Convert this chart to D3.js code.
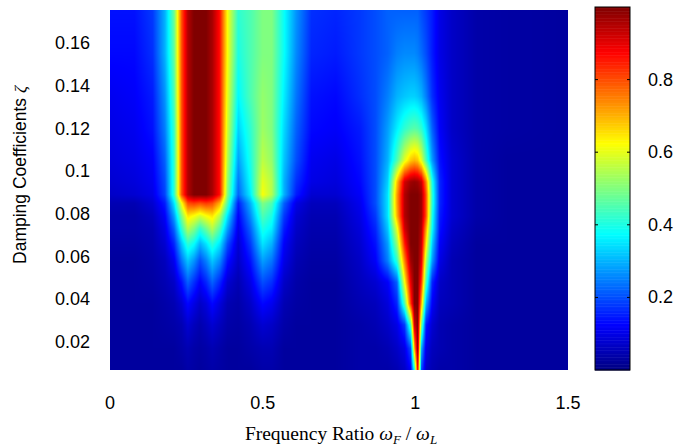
<!DOCTYPE html>
<html>
<head>
<meta charset="utf-8">
<script src="https://cdn.jsdelivr.net/npm/d3@7"></script>
<style>
  body { margin: 0; background: #fff; }
  svg { display: block; }
  .tick-label { font-family: "Liberation Sans", Arial, sans-serif; font-size: 18px; fill: #000; }
</style>
</head>
<body>
<svg width="681" height="448"></svg>
<script>
// frequency ratio columns (x) and damping rows (y)
const ratio = [0, 0.08, 0.14, 0.18, 0.21, 0.235, 0.255, 0.275, 0.295, 0.315, 0.335, 0.36, 0.385,
  0.42, 0.46, 0.5, 0.53, 0.57, 0.61, 0.66, 0.74, 0.82, 0.87, 0.91, 0.94, 0.965, 0.985, 0.997,
  1.008, 1.02, 1.035, 1.055, 1.08, 1.12, 1.2, 1.3, 1.5];
const zeta = [0.007, 0.017, 0.028, 0.038, 0.048, 0.058, 0.066, 0.073, 0.079, 0.085, 0.089,
  0.095, 0.105, 0.12, 0.135, 0.155, 0.175];
// one row per zeta value (bottom to top), one entry per ratio column
const response = [
  [0.03,0.03,0.03,0.03,0.03, 0.03,0.04,0.035,0.03,0.035,0.04,0.035,0.03, 0.03,0.03,0.04,0.04,0.03,0.03, 0.03,0.03,0.04,0.04, 0.04,0.05,0.07,0.12,0.4,0.9,0.2,0.07,0.05,0.04,0.04, 0.03,0.03,0.03],
  [0.03,0.03,0.03,0.03,0.03, 0.04,0.05,0.04,0.035,0.04,0.05,0.04,0.03, 0.03,0.04,0.05,0.05,0.03,0.03, 0.03,0.03,0.04,0.04, 0.05,0.07,0.1,0.2,0.7,1,0.3,0.1,0.06,0.05,0.04, 0.03,0.03,0.03],
  [0.03,0.03,0.03,0.035,0.04, 0.05,0.08,0.06,0.045,0.06,0.08,0.06,0.04, 0.035,0.05,0.08,0.07,0.04,0.03, 0.03,0.03,0.04,0.05, 0.07,0.1,0.18,0.45,0.92,1,0.5,0.15,0.08,0.05,0.04, 0.03,0.03,0.03],
  [0.03,0.03,0.03,0.04,0.05, 0.08,0.13,0.1,0.07,0.09,0.13,0.09,0.05, 0.04,0.07,0.13,0.11,0.05,0.035, 0.03,0.03,0.05,0.06, 0.09,0.16,0.45,0.82,1,1,0.7,0.3,0.12,0.06,0.05, 0.03,0.03,0.03],
  [0.03,0.03,0.035,0.05,0.07, 0.14,0.22,0.17,0.12,0.16,0.22,0.16,0.08, 0.05,0.1,0.2,0.17,0.07,0.04, 0.03,0.03,0.06,0.08, 0.12,0.22,0.62,0.9,1,1,0.82,0.45,0.16,0.07,0.05, 0.03,0.03,0.03],
  [0.03,0.03,0.04,0.06,0.11, 0.24,0.32,0.27,0.2,0.25,0.32,0.26,0.14, 0.07,0.14,0.28,0.24,0.1,0.05, 0.035,0.035,0.07,0.12, 0.25,0.42,0.75,0.97,1,1,0.9,0.55,0.28,0.1,0.05, 0.03,0.03,0.03],
  [0.035,0.035,0.045,0.08,0.16, 0.32,0.42,0.38,0.3,0.35,0.42,0.35,0.2, 0.08,0.18,0.35,0.3,0.12,0.06, 0.04,0.04,0.08,0.14, 0.28,0.52,0.85,1,1,1,0.93,0.65,0.33,0.12,0.06, 0.03,0.03,0.03],
  [0.04,0.04,0.05,0.1,0.22, 0.42,0.55,0.5,0.42,0.48,0.55,0.45,0.28, 0.1,0.22,0.4,0.36,0.15,0.07, 0.045,0.045,0.09,0.16, 0.32,0.6,0.92,1,1,1,0.95,0.72,0.38,0.14,0.07, 0.035,0.03,0.03],
  [0.04,0.04,0.06,0.12,0.28, 0.5,0.65,0.62,0.58,0.62,0.65,0.55,0.35, 0.12,0.26,0.45,0.4,0.18,0.08, 0.05,0.05,0.1,0.18, 0.35,0.7,0.95,1,1,1,0.97,0.8,0.4,0.15,0.08, 0.04,0.03,0.03],
  [0.05,0.05,0.08,0.15,0.35, 0.62,0.8,0.82,0.8,0.82,0.8,0.7,0.45, 0.15,0.3,0.5,0.45,0.22,0.1, 0.06,0.06,0.11,0.2, 0.35,0.72,0.95,1,1,1,0.97,0.8,0.42,0.16,0.08, 0.04,0.03,0.03],
  [0.07,0.08,0.1,0.19,0.42, 0.8,0.95,1,1,1,0.96,0.86,0.5, 0.22,0.36,0.62,0.55,0.3,0.15, 0.08,0.08,0.12,0.2, 0.35,0.72,0.95,1,1,1,0.97,0.8,0.42,0.16,0.08, 0.04,0.03,0.03],
  [0.08,0.09,0.11,0.2,0.42, 0.8,0.95,1,1,1,0.96,0.86,0.52, 0.24,0.38,0.6,0.55,0.3,0.17, 0.1,0.09,0.13,0.2, 0.33,0.68,0.92,0.97,0.98,0.97,0.93,0.75,0.4,0.16,0.08, 0.04,0.03,0.03],
  [0.09,0.1,0.12,0.22,0.42, 0.8,0.95,1,1,1,0.96,0.86,0.55, 0.28,0.4,0.56,0.52,0.32,0.2, 0.11,0.1,0.14,0.2, 0.3,0.45,0.6,0.68,0.7,0.68,0.6,0.45,0.28,0.14,0.08, 0.04,0.03,0.03],
  [0.1,0.11,0.14,0.25,0.43, 0.8,0.95,1,1,1,0.96,0.86,0.58, 0.33,0.42,0.53,0.5,0.34,0.22, 0.13,0.12,0.15,0.2, 0.28,0.36,0.42,0.45,0.46,0.45,0.42,0.35,0.22,0.12,0.07, 0.04,0.035,0.03],
  [0.11,0.12,0.15,0.27,0.45, 0.8,0.95,1,1,1,0.96,0.86,0.6, 0.37,0.45,0.52,0.5,0.36,0.24, 0.14,0.13,0.17,0.2, 0.25,0.3,0.32,0.33,0.33,0.32,0.3,0.25,0.17,0.11,0.07, 0.04,0.035,0.03],
  [0.13,0.13,0.17,0.3,0.47, 0.8,0.95,1,1,1,0.96,0.86,0.62, 0.4,0.45,0.5,0.5,0.38,0.26, 0.16,0.15,0.18,0.2, 0.22,0.25,0.26,0.26,0.26,0.25,0.23,0.2,0.15,0.1,0.07, 0.04,0.035,0.03],
  [0.14,0.14,0.18,0.3,0.48, 0.8,0.95,1,1,1,0.96,0.86,0.62, 0.42,0.45,0.5,0.5,0.38,0.27, 0.17,0.16,0.18,0.2, 0.22,0.22,0.22,0.22,0.22,0.22,0.2,0.18,0.15,0.1,0.07, 0.04,0.035,0.03]
];
const xTicks = [0, 0.5, 1, 1.5];
const yTicks = [0.02, 0.04, 0.06, 0.08, 0.1, 0.12, 0.14, 0.16];
const barTicks = [0.2, 0.4, 0.6, 0.8];

const svg = d3.select("svg");

// plot area
const plotL = 110, plotR = 568, plotT = 10, plotB = 370;
const x = d3.scaleLinear().domain([0, 1.5]).range([plotL, plotR]);
const y = d3.scaleLinear().domain([0.0069, 0.1755]).range([plotB, plotT]);

// matlab jet colormap
const jet = d3.scaleLinear()
    .domain([0, 0.125, 0.375, 0.625, 0.875, 1])
    .range(["#000080", "#0000ff", "#00ffff", "#ffff00", "#ff0000", "#800000"])
    .clamp(true);

// bilinear lookup in the grid (shading like matlab "interp")
function lookup(xv, zv) {
    let i = Math.max(0, Math.min(d3.bisectRight(ratio, xv) - 1, ratio.length - 2));
    let j = Math.max(0, Math.min(d3.bisectRight(zeta, zv) - 1, zeta.length - 2));
    let tx = Math.max(0, Math.min(1, (xv - ratio[i]) / (ratio[i + 1] - ratio[i])));
    let tz = Math.max(0, Math.min(1, (zv - zeta[j]) / (zeta[j + 1] - zeta[j])));
    let a = response[j][i] * (1 - tx) + response[j][i + 1] * tx;
    let b = response[j + 1][i] * (1 - tx) + response[j + 1][i + 1] * tx;
    return a * (1 - tz) + b * tz;
}

const w = plotR - plotL, h = plotB - plotT;
const canvas = document.createElement("canvas");
canvas.width = w;
canvas.height = h;
const ctx = canvas.getContext("2d");
const img = ctx.createImageData(w, h);
for (let py = 0; py < h; py++) {
    const zv = y.invert(plotT + py + 0.5);
    for (let px = 0; px < w; px++) {
        const xv = x.invert(plotL + px + 0.5);
        const c = d3.rgb(jet(lookup(xv, zv)));
        const k = (py * w + px) * 4;
        img.data[k] = c.r;
        img.data[k + 1] = c.g;
        img.data[k + 2] = c.b;
        img.data[k + 3] = 255;
    }
}
ctx.putImageData(img, 0, 0);

svg.append("image")
    .attr("x", plotL).attr("y", plotT)
    .attr("width", w).attr("height", h)
    .attr("preserveAspectRatio", "none")
    .attr("href", canvas.toDataURL());

// axis tick labels (matlab hides tick marks under the image)
svg.append("g").selectAll("text")
    .data(xTicks).enter().append("text")
    .attr("class", "tick-label")
    .attr("x", d => x(d))
    .attr("y", 409)
    .attr("text-anchor", "middle")
    .text(d => d);

svg.append("g").selectAll("text")
    .data(yTicks).enter().append("text")
    .attr("class", "tick-label")
    .attr("x", 90)
    .attr("y", d => y(d) + 6)
    .attr("text-anchor", "end")
    .text(d => d);

// x label
const xl = svg.append("text")
    .attr("x", 341).attr("y", 440)
    .attr("text-anchor", "middle")
    .style("font-family", "'Liberation Serif', 'Times New Roman', serif")
    .style("font-size", "19.5px");
xl.append("tspan").text("Frequency Ratio ");
xl.append("tspan").style("font-style", "italic").text("ω");
xl.append("tspan").style("font-style", "italic").style("font-size", "13px").attr("dy", 4).text("F");
xl.append("tspan").attr("dy", -4).text(" / ");
xl.append("tspan").style("font-style", "italic").text("ω");
xl.append("tspan").style("font-style", "italic").style("font-size", "13px").attr("dy", 4).text("L");

// y label
const yl = svg.append("text")
    .attr("transform", "translate(26," + 175 + ") rotate(-90)")
    .attr("text-anchor", "middle")
    .style("font-family", "'Liberation Sans', Arial, sans-serif")
    .style("font-size", "17.5px");
yl.append("tspan").text("Damping Coefficients ");
yl.append("tspan").style("font-family", "'Liberation Serif', serif").style("font-style", "italic").text("ζ");

// colorbar
const cbLeft = 595, cbRight = 630;
const cb = d3.scaleLinear().domain([0, 1]).range([370, 7]);
const steps = d3.range(0, 1, 1 / 256);
svg.append("g").selectAll("rect")
    .data(steps).enter().append("rect")
    .attr("x", cbLeft)
    .attr("width", cbRight - cbLeft)
    .attr("y", d => cb(d + 1 / 256))
    .attr("height", d => cb(d) - cb(d + 1 / 256) + 0.5)
    .attr("fill", d => jet(d + 0.5 / 256));

svg.append("rect")
    .attr("x", cbLeft).attr("y", cb(1))
    .attr("width", cbRight - cbLeft).attr("height", cb(0) - cb(1))
    .attr("fill", "none").attr("stroke", "#000").attr("stroke-width", 1);

const cbTicks = svg.append("g");
cbTicks.selectAll("line.l").data(barTicks).enter().append("line")
    .attr("x1", cbLeft).attr("x2", cbLeft + 3)
    .attr("y1", d => cb(d)).attr("y2", d => cb(d))
    .attr("stroke", "#000");
cbTicks.selectAll("line.r").data(barTicks).enter().append("line")
    .attr("x1", cbRight - 3).attr("x2", cbRight)
    .attr("y1", d => cb(d)).attr("y2", d => cb(d))
    .attr("stroke", "#000");
cbTicks.selectAll("text").data(barTicks).enter().append("text")
    .attr("class", "tick-label")
    .attr("x", 648)
    .attr("y", d => cb(d) + 6)
    .text(d => d);
</script>
</body>
</html>
